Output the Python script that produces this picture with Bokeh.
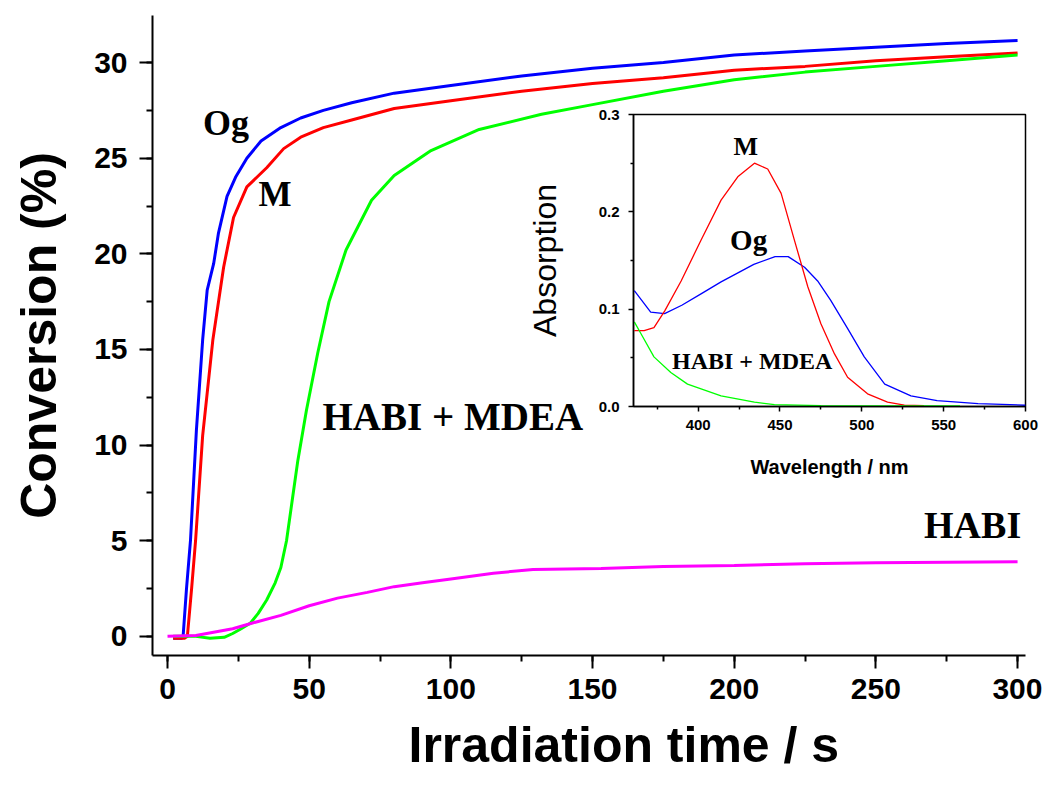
from bokeh.plotting import figure
from bokeh.layouts import column
from bokeh.models import (Label, Title, SingleIntervalTicker, FixedTicker,
                          Range1d, PrintfTickFormatter)
from bokeh.embed import file_html
from bokeh.resources import INLINE

# ---------------- main chart data (time in s, conversion in %) ----------------
og_t = [2, 5, 5.5, 6.7, 8.1, 10.2, 12.4, 14, 16.3, 18, 21, 24, 28, 33, 40, 47,
        55, 65, 80, 100, 125, 150, 175, 200, 225, 250, 275, 300]
og_c = [-0.1, -0.1, 0, 2.5, 5, 10.8, 15.5, 18.1, 19.5, 21.1, 23, 24, 25, 25.9,
        26.6, 27.1, 27.5, 27.9, 28.4, 28.8, 29.3, 29.7, 30.0, 30.4, 30.6, 30.8,
        31.0, 31.15]

m_t = [2, 6, 7, 8.5, 9.9, 12.4, 16, 19.8, 23.3, 28, 35, 41, 47, 55, 65, 80,
       100, 125, 150, 175, 200, 225, 250, 275, 300]
m_c = [-0.1, -0.1, 0, 2.5, 5, 10.5, 15.5, 19.3, 21.9, 23.5, 24.5, 25.5, 26.1,
       26.6, 27.0, 27.6, 28.0, 28.5, 28.9, 29.2, 29.6, 29.8, 30.1, 30.3, 30.5]

hm_t = [2, 10, 15, 20, 23, 26, 29.3, 32, 35, 38, 40, 42, 44, 46, 49, 53, 57,
        63, 72, 80, 93, 110, 132, 150, 175, 200, 225, 250, 275, 300]
hm_c = [0, 0, -0.1, -0.05, 0.15, 0.4, 0.7, 1.2, 1.9, 2.8, 3.6, 5.0, 7.1, 9.2,
        11.8, 14.8, 17.5, 20.2, 22.8, 24.1, 25.4, 26.5, 27.3, 27.8, 28.5, 29.1,
        29.5, 29.8, 30.1, 30.4]

habi_t = [0, 10, 23, 30, 40, 50, 60, 70.5, 80, 90, 100, 115, 129, 153, 175,
          200, 225, 250, 275, 300]
habi_c = [0, 0.05, 0.4, 0.7, 1.1, 1.6, 2.0, 2.3, 2.6, 2.8, 3.0, 3.3, 3.5, 3.55,
          3.65, 3.7, 3.8, 3.85, 3.88, 3.9]

# ---------------- inset data (wavelength in nm, absorption) ----------------
og_wl = [361, 371, 379.5, 390, 402, 414, 424, 434, 447, 455, 465, 473, 481,
         491, 501.5, 514, 530, 546, 571, 600]
og_ab = [0.119, 0.097, 0.0955, 0.104, 0.116, 0.128, 0.137, 0.146, 0.154,
         0.154, 0.143, 0.129, 0.109, 0.081, 0.051, 0.023, 0.011, 0.006, 0.003,
         0.0013]

m_wl = [361, 367, 373, 379.5, 389.6, 401.8, 414, 424.2, 434.4, 442.5, 450.7,
        458.8, 467, 475, 483.3, 491.3, 503.5, 515.7, 526, 538]
m_ab = [0.078, 0.078, 0.081, 0.098, 0.129, 0.171, 0.212, 0.236, 0.250, 0.244,
        0.219, 0.171, 0.123, 0.085, 0.054, 0.030, 0.013, 0.0045, 0.0013, 0.001]

hm_wl = [361, 365, 373, 383.3, 393.5, 414, 434.4, 446.6, 475, 505, 560]
hm_ab = [0.087, 0.075, 0.051, 0.035, 0.023, 0.011, 0.0045, 0.002, 0.001,
         0.0005, 0.0005]

main_x_ticks_interval = 50
main_y_ticks_interval = 5
inset_x_ticks = [400, 450, 500, 550, 600]
inset_x_minor = [375, 425, 475, 525, 575]
inset_y_ticks = [0.0, 0.1, 0.2, 0.3]
inset_y_minor = [0.05, 0.15, 0.25]

SANS = "Liberation Sans"
SERIF = "Liberation Serif"

# ---------------- main figure ----------------
p = figure(frame_width=873, frame_height=640,
           x_range=Range1d(-5.3, 302.8), y_range=Range1d(-1.0, 32.46),
           output_backend="svg", toolbar_location=None,
           min_border_left=152, min_border_right=17,
           min_border_top=15, min_border_bottom=131)
p.outline_line_color = None
p.grid.visible = False
p.background_fill_color = "white"
p.border_fill_color = "white"

p.xaxis.ticker = SingleIntervalTicker(interval=main_x_ticks_interval, num_minor_ticks=2)
p.yaxis.ticker = SingleIntervalTicker(interval=main_y_ticks_interval, num_minor_ticks=2)
p.yaxis.axis_label = "Conversion (%)"
for ax in (p.xaxis, p.yaxis):
    ax.axis_line_width = 2
    ax.axis_line_color = "black"
    ax.major_tick_line_width = 2
    ax.minor_tick_line_width = 2
    ax.major_tick_in = 0
    ax.minor_tick_in = 0
    ax.major_tick_out = 13
    ax.minor_tick_out = 6
    ax.major_label_text_font = SANS
    ax.major_label_text_font_style = "bold"
    ax.major_label_text_font_size = "30px"
    ax.major_label_text_color = "black"
    ax.axis_label_text_font = SANS
    ax.axis_label_text_font_style = "bold"
    ax.axis_label_text_font_size = "50px"
    ax.axis_label_text_color = "black"
p.xaxis.major_label_standoff = 10
p.yaxis.major_label_standoff = 12
p.yaxis.axis_label_standoff = 24

# x-axis title below the axis, starting where the original's does
p.add_layout(Title(text="Irradiation time / s", align="left", offset=256,
                   standoff=26, text_font=SANS, text_font_style="bold",
                   text_font_size="50px", text_color="black"), "below")

p.line(og_t, og_c, line_color="#0000FF", line_width=3)
p.line(m_t, m_c, line_color="#FF0000", line_width=3)
p.line(hm_t, hm_c, line_color="#00FF00", line_width=3)
p.line(habi_t, habi_c, line_color="#FF00FF", line_width=3)

def add_label(fig, x, y, text, size):
    fig.add_layout(Label(x=x, y=y, text=text, text_font=SERIF,
                         text_font_style="bold", text_font_size=size,
                         text_color="black", text_baseline="alphabetic",
                         text_align="left"))

add_label(p, 12.5, 26.85, "Og", "36px")
add_label(p, 32.1, 23.1, "M", "35px")
add_label(p, 54.7, 11.5, "HABI + MDEA", "39px")
add_label(p, 267.0, 5.8, "HABI", "38px")

# ---------------- inset figure (same canvas size, transparent, overlaid) ----------------
q = figure(frame_width=392, frame_height=292,
           x_range=Range1d(360.5, 600), y_range=Range1d(0, 0.3),
           output_backend="svg", toolbar_location=None,
           min_border_left=633, min_border_right=17,
           min_border_top=114, min_border_bottom=380)
q.background_fill_alpha = 0
q.border_fill_alpha = 0
q.outline_line_color = "black"
q.outline_line_width = 1.5
q.outline_line_alpha = 1
q.grid.visible = False
q.xaxis.ticker = FixedTicker(ticks=inset_x_ticks, minor_ticks=inset_x_minor)
q.yaxis.ticker = FixedTicker(ticks=inset_y_ticks, minor_ticks=inset_y_minor)
q.yaxis.formatter = PrintfTickFormatter(format="%.1f")
q.xaxis.axis_label = "Wavelength / nm"
q.yaxis.axis_label = "Absorption"
for ax in (q.xaxis, q.yaxis):
    ax.axis_line_width = 1.5
    ax.axis_line_color = "black"
    ax.major_tick_line_width = 1.5
    ax.minor_tick_line_width = 1.5
    ax.major_tick_in = 0
    ax.minor_tick_in = 0
    ax.major_tick_out = 5
    ax.minor_tick_out = 3
    ax.major_label_text_font = SANS
    ax.major_label_text_font_style = "bold"
    ax.major_label_text_font_size = "15px"
    ax.major_label_text_color = "black"
    ax.axis_label_text_color = "black"
    ax.axis_label_text_font = SANS
q.xaxis.axis_label_text_font_style = "bold"
q.xaxis.axis_label_text_font_size = "20px"
q.yaxis.axis_label_text_font_style = "normal"
q.yaxis.axis_label_text_font_size = "32px"
q.xaxis.major_label_standoff = 8
q.xaxis.axis_label_standoff = 23
q.yaxis.major_label_standoff = 9
q.yaxis.axis_label_standoff = 33

q.line(og_wl, og_ab, line_color="#0000FF", line_width=1.3)
q.line(m_wl, m_ab, line_color="#FF0000", line_width=1.3)
q.line(hm_wl, hm_ab, line_color="#00FF00", line_width=1.3)

add_label(q, 421.6, 0.267, "M", "26px")
add_label(q, 419.5, 0.171, "Og", "29px")
add_label(q, 384.0, 0.047, "HABI + MDEA", "24px")

# overlay the inset on top of the main chart (a plain pane: no frame alignment)
q.styles = {"position": "absolute", "left": "0px", "top": "0px"}
try:
    from bokeh.models import Pane
    layout = Pane(elements=[p, q], styles={"position": "relative"})
except Exception:
    layout = column(p, column(q), styles={"position": "relative"})

open("out.html", "w").write(file_html(layout, INLINE))
